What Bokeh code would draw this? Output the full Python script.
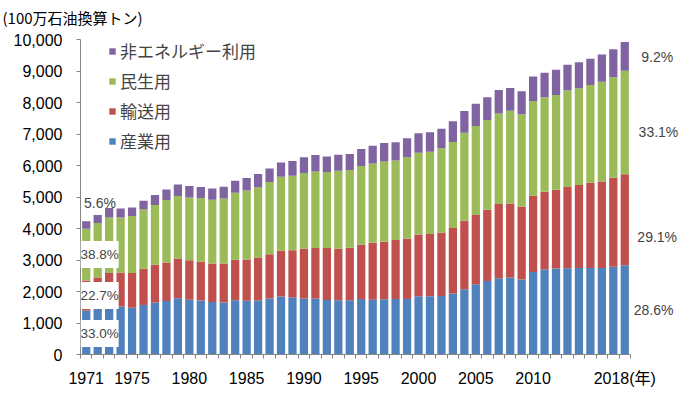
from bokeh.plotting import figure
from bokeh.models import (ColumnDataSource, FixedTicker, NumeralTickFormatter,
                          Label, Legend, LegendItem, Range1d)
from bokeh.embed import file_html
from bokeh.resources import INLINE

# ---- data (100万石油換算トン) ----
years = list(range(1971, 2019))
industry = [1394, 1450, 1510, 1520, 1488, 1574, 1647, 1701, 1787, 1742,
            1711, 1665, 1650, 1723, 1705, 1711, 1774, 1838, 1817, 1774,
            1774, 1733, 1723, 1723, 1765, 1740, 1754, 1765, 1765, 1850,
            1850, 1855, 1933, 2073, 2232, 2337, 2423, 2442, 2378, 2623,
            2696, 2728, 2738, 2748, 2748, 2748, 2782, 2835]
transport = [959, 992, 1081, 1081, 1102, 1145, 1199, 1218, 1259, 1253,
             1233, 1222, 1237, 1282, 1310, 1367, 1412, 1453, 1496, 1581,
             1603, 1644, 1632, 1662, 1717, 1805, 1823, 1866, 1917, 1959,
             1972, 2018, 2080, 2172, 2198, 2258, 2353, 2353, 2322, 2417,
             2471, 2502, 2578, 2632, 2705, 2746, 2830, 2889]
residential = [1639, 1730, 1759, 1749, 1804, 1885, 1898, 1984, 1984, 1991,
               2023, 2026, 2067, 2130, 2193, 2226, 2289, 2353, 2363, 2406,
               2435, 2416, 2479, 2472, 2502, 2522, 2553, 2531, 2576, 2598,
               2617, 2671, 2734, 2798, 2825, 2852, 2871, 2947, 2925, 3004,
               2998, 3012, 3072, 3072, 3106, 3161, 3189, 3286]
non_energy = [236, 253, 299, 286, 274, 277, 318, 337, 369, 362,
              349, 355, 372, 382, 394, 426, 433, 455, 467, 497,
              522, 496, 506, 509, 541, 563, 585, 573, 604, 614,
              613, 626, 655, 690, 705, 718, 753, 722, 731, 780,
              776, 794, 808, 826, 827, 868, 891, 913]

series_names = ["産業用", "輸送用", "民生用", "非エネルギー利用"]
series_colors = ["#4F81BD", "#C0504D", "#9BBB59", "#8064A2"]
x_tick_years = [1971, 1975, 1980, 1985, 1990, 1995, 2000, 2005, 2010, 2018]
y_ticks = [0, 1000, 2000, 3000, 4000, 5000, 6000, 7000, 8000, 9000, 10000]
share_1971 = ["33.0%", "22.7%", "38.8%", "5.6%"]
share_2018 = ["28.6%", "29.1%", "33.1%", "9.2%"]
unit_title = "(100万石油換算トン)"
year_suffix = "(年)"

NUM_FONT = "Liberation Sans"
JP_FONT = "Noto Sans CJK JP"

# ---- layout geometry ----
W, H = 690, 393
FRAME_L, FRAME_T, FRAME_B = 80, 30, 354        # frame edges (px)
Y_TOP_PX = 39                                  # pixel row of the axis maximum
x_lo, x_hi = years[0] - 0.5, years[-1] + 0.5
px_per_year = 550 / (x_hi - x_lo)
x_end = x_lo + (W - FRAME_L) / px_per_year
y_max = y_ticks[-1]
y_end = y_max * (FRAME_B - FRAME_T) / (FRAME_B - Y_TOP_PX)

p = figure(width=W, height=H, output_backend="svg", toolbar_location=None,
           x_range=Range1d(x_lo, x_end), y_range=Range1d(0, y_end),
           min_border_left=FRAME_L, min_border_right=0,
           min_border_top=FRAME_T, min_border_bottom=H - FRAME_B)
p.outline_line_color = None
p.grid.visible = False
p.background_fill_color = "white"
p.border_fill_color = "white"

src = ColumnDataSource(dict(year=years, ind=industry, tr=transport,
                            res=residential, non=non_energy))
rs = p.vbar_stack(["ind", "tr", "res", "non"], x="year", width=0.72,
                  fill_color=series_colors, line_color=None, source=src)

# axes
axis_gray = "#868686"
yax = p.yaxis[0]
yax.bounds = (0, y_max)
yax.ticker = FixedTicker(ticks=y_ticks)
yax.formatter = NumeralTickFormatter(format="0,0")
yax.axis_line_color = axis_gray
yax.major_tick_line_color = axis_gray
yax.major_tick_out = 4
yax.major_tick_in = 0
yax.minor_tick_line_color = None
yax.major_label_standoff = 14
yax.major_label_text_font = NUM_FONT
yax.major_label_text_font_size = "16px"
yax.major_label_text_color = "black"

xax = p.xaxis[0]
xax.bounds = (x_lo, x_hi)
xax.ticker = FixedTicker(ticks=x_tick_years,
                         minor_ticks=[y - 0.5 for y in years] + [x_hi])
xax.major_label_overrides = {y: str(y) for y in x_tick_years}
xax.major_label_overrides[x_tick_years[-1]] = str(x_tick_years[-1]) + year_suffix
xax.axis_line_color = axis_gray
xax.major_tick_line_color = None
xax.major_tick_out = 0
xax.major_tick_in = 0
xax.minor_tick_line_color = axis_gray
xax.minor_tick_out = 4
xax.minor_tick_in = 0
xax.major_label_standoff = 11
xax.major_label_text_font = NUM_FONT + ", " + JP_FONT
xax.major_label_text_font_size = "16px"
xax.major_label_text_color = "black"

# unit title
p.title.text = unit_title
p.title.align = "left"
p.title.offset = 2 - FRAME_L
p.title.standoff = 5
p.title.text_font = JP_FONT
p.title.text_font_size = "15px"
p.title.text_font_style = "normal"
p.title.text_color = "black"

# legend (top item = 非エネルギー利用)
items = [LegendItem(label=series_names[i], renderers=[rs[i]]) for i in (3, 2, 1, 0)]
legend = Legend(items=items, location=(28, 201), glyph_width=8, glyph_height=8,
                label_text_font=JP_FONT, label_text_font_size="17px",
                spacing=5, padding=0, margin=0,
                label_standoff=4, border_line_color=None,
                background_fill_alpha=0)
p.add_layout(legend)

# share labels 1971 (left, white boxes)
left_pos = [(1972.16, 667), (1972.16, 1873), (1972.16, 3175)]
for txt, (lx, ly) in zip(share_1971[:3], left_pos):
    p.add_layout(Label(x=lx, y=ly, text=txt, text_font=NUM_FONT,
                       text_font_size="13.5px", text_align="center",
                       text_baseline="middle", background_fill_color="white",
                       padding=(0, 6)))
p.add_layout(Label(x=1972.2, y=4794, text=share_1971[3], text_font=NUM_FONT,
                   text_font_size="14px", text_align="center",
                   text_baseline="middle"))

# share labels 2018 (right)
right_pos = [(2020.51, 1397), (2020.83, 3724), (2020.94, 7057), (2020.83, 9438)]
for txt, (lx, ly) in zip(share_2018, right_pos):
    p.add_layout(Label(x=lx, y=ly, text=txt, text_font=NUM_FONT,
                       text_font_size="14px", text_align="center",
                       text_baseline="middle"))

open("out.html", "w").write(file_html(p, INLINE))
